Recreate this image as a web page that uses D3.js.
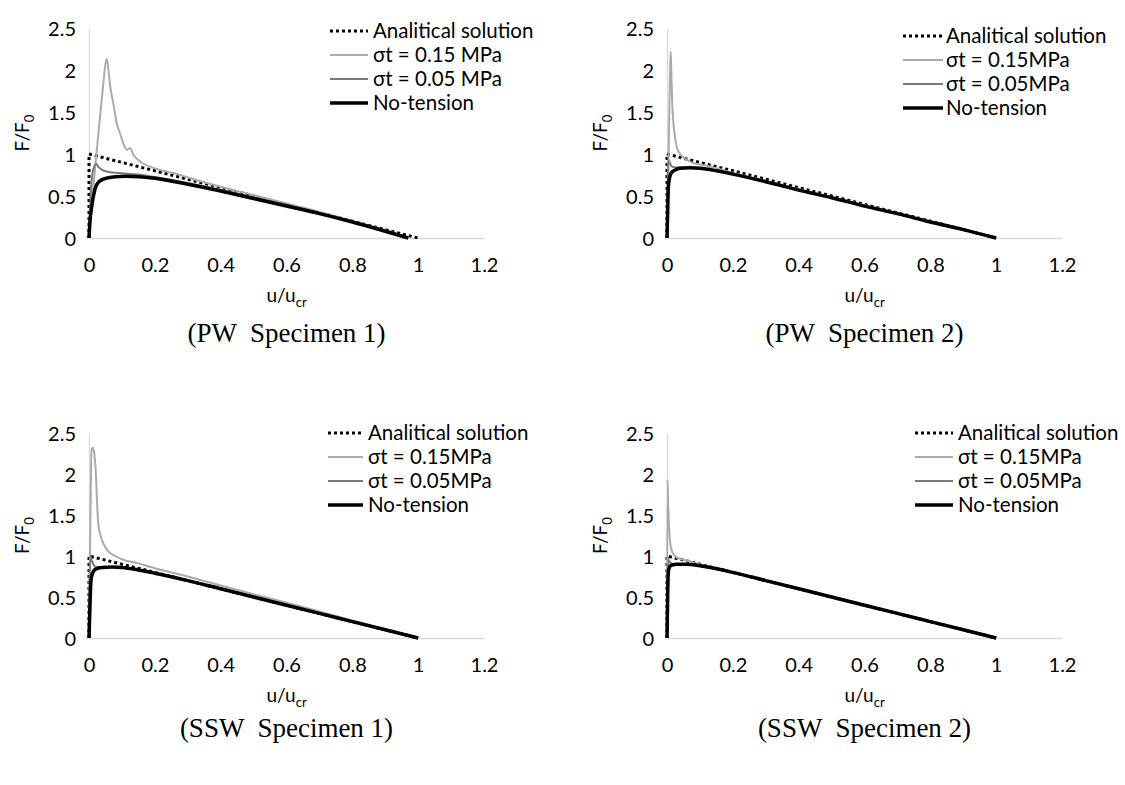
<!DOCTYPE html>
<html>
<head>
<meta charset="utf-8">
<script src="https://cdn.jsdelivr.net/npm/d3@7"></script>
<style>
  body { margin: 0; background: #fff; }
  svg { display: block; }
  text { font-family: Lato, "Open Sans", sans-serif; fill: #000; }
  .caption { font-family: "Liberation Serif", "Times New Roman", serif; white-space: pre; }
</style>
</head>
<body>
<svg id="fig" width="1125" height="785"></svg>
<script>
// ---- axis ticks ----
const xTicks = [0, 0.2, 0.4, 0.6, 0.8, 1, 1.2];
const yTicks = [0, 0.5, 1, 1.5, 2, 2.5];

// ---- legend labels (per specimen) ----
const pwLegend1  = ["Analitical solution", "σt = 0.15 MPa", "σt = 0.05 MPa", "No-tension"];
const pwLegend2  = ["Analitical solution", "σt = 0.15MPa", "σt = 0.05MPa", "No-tension"];
const captions   = ["(PW  Specimen 1)", "(PW  Specimen 2)", "(SSW  Specimen 1)", "(SSW  Specimen 2)"];

// ---- series: [u/ucr, F/F0] ----
// PW specimen 1
const pw1Analytical = [[0, 0], [0, 1], [1, 0]];
const pw1Sigma015 = [[0, 0], [0.01, 0.45], [0.02, 0.9], [0.03, 1.3], [0.04, 1.7], [0.054, 2.13], [0.059, 2.0],
  [0.064, 1.82], [0.074, 1.6], [0.084, 1.37], [0.094, 1.25], [0.104, 1.13], [0.115, 1.05], [0.125, 1.07],
  [0.135, 0.99], [0.155, 0.91], [0.185, 0.85], [0.216, 0.81], [0.26, 0.77], [0.3, 0.72], [0.4, 0.61],
  [0.5, 0.51], [0.6, 0.41], [0.7, 0.31], [0.8, 0.2], [0.9, 0.09], [0.97, 0]];
const pw1Sigma005 = [[0, 0], [0.005, 0.5], [0.012, 0.8], [0.022, 0.88], [0.03, 0.84], [0.045, 0.8], [0.07, 0.78],
  [0.1, 0.77], [0.15, 0.755], [0.2, 0.725], [0.3, 0.655], [0.4, 0.575], [0.5, 0.485], [0.6, 0.395],
  [0.7, 0.3], [0.8, 0.2], [0.9, 0.09], [0.97, 0]];
const pw1NoTension = [[0, 0], [0.003, 0.2], [0.008, 0.37], [0.018, 0.58], [0.03, 0.67], [0.05, 0.71], [0.08, 0.73],
  [0.11, 0.735], [0.15, 0.73], [0.2, 0.71], [0.3, 0.64], [0.4, 0.56], [0.5, 0.47], [0.6, 0.38], [0.7, 0.29],
  [0.8, 0.19], [0.9, 0.08], [0.97, 0]];

// PW specimen 2
const pw2Analytical = [[0, 0], [0, 1], [1, 0]];
const pw2Sigma015 = [[0, 0], [0.005, 1.0], [0.009, 1.9], [0.011, 2.22], [0.013, 2.0], [0.016, 1.6], [0.02, 1.35],
  [0.025, 1.18], [0.03, 1.08], [0.04, 1.0], [0.05, 0.96], [0.07, 0.91], [0.09, 0.88], [0.12, 0.86],
  [0.15, 0.83], [0.2, 0.775], [0.3, 0.68], [0.4, 0.58], [0.5, 0.485], [0.6, 0.39], [0.7, 0.295],
  [0.8, 0.2], [0.9, 0.1], [1, 0]];
const pw2Sigma005 = [[0, 0], [0.002, 0.6], [0.004, 0.92], [0.008, 0.9], [0.015, 0.85], [0.03, 0.84], [0.06, 0.84],
  [0.1, 0.83], [0.2, 0.765], [0.3, 0.675], [0.4, 0.575], [0.5, 0.48], [0.6, 0.385], [0.7, 0.29],
  [0.8, 0.195], [0.9, 0.1], [1, 0]];
const pw2NoTension = [[0, 0], [0.002, 0.3], [0.004, 0.6], [0.008, 0.72], [0.014, 0.78], [0.025, 0.81], [0.04, 0.83],
  [0.07, 0.835], [0.1, 0.83], [0.15, 0.8], [0.2, 0.76], [0.3, 0.67], [0.4, 0.57], [0.5, 0.48], [0.6, 0.38],
  [0.7, 0.29], [0.8, 0.19], [0.9, 0.1], [1, 0]];

// SSW specimen 1
const ssw1Analytical = [[0, 0], [0, 1], [1, 0]];
const ssw1Sigma015 = [[0, 0], [0.003, 1.0], [0.008, 2.3], [0.012, 2.32], [0.017, 2.22], [0.021, 2.0], [0.024, 1.7],
  [0.028, 1.4], [0.035, 1.25], [0.045, 1.14], [0.06, 1.05], [0.08, 1.0], [0.1, 0.96], [0.15, 0.91],
  [0.2, 0.85], [0.3, 0.75], [0.4, 0.64], [0.5, 0.535], [0.6, 0.43], [0.7, 0.325], [0.8, 0.215],
  [0.9, 0.105], [1, 0]];
const ssw1Sigma005 = [[0, 0], [0.002, 0.7], [0.004, 1.0], [0.008, 0.95], [0.013, 0.9], [0.02, 0.87], [0.04, 0.865],
  [0.07, 0.865], [0.1, 0.86], [0.15, 0.83], [0.2, 0.79], [0.3, 0.7], [0.4, 0.6], [0.5, 0.5], [0.6, 0.4],
  [0.7, 0.3], [0.8, 0.2], [0.9, 0.1], [1, 0]];
const ssw1NoTension = [[0, 0], [0.003, 0.4], [0.006, 0.7], [0.012, 0.8], [0.02, 0.84], [0.04, 0.86], [0.07, 0.865],
  [0.1, 0.86], [0.15, 0.83], [0.2, 0.79], [0.3, 0.7], [0.4, 0.6], [0.5, 0.5], [0.6, 0.4], [0.7, 0.3],
  [0.8, 0.2], [0.9, 0.1], [1, 0]];

// SSW specimen 2
const ssw2Analytical = [[0, 0], [0, 1], [1, 0]];
const ssw2Sigma015 = [[0, 0], [0.0015, 1.93], [0.004, 1.6], [0.007, 1.3], [0.01, 1.15], [0.015, 1.06],
  [0.025, 1.0], [0.04, 0.965], [0.06, 0.945], [0.1, 0.9], [0.2, 0.8], [0.3, 0.7], [0.4, 0.6], [0.5, 0.5],
  [0.6, 0.4], [0.7, 0.3], [0.8, 0.2], [0.9, 0.1], [1, 0]];
const ssw2Sigma005 = [[0, 0], [0.002, 0.7], [0.004, 0.95], [0.01, 0.92], [0.02, 0.9], [0.04, 0.9], [0.07, 0.9],
  [0.1, 0.885], [0.2, 0.8], [0.3, 0.7], [0.4, 0.6], [0.5, 0.5], [0.6, 0.4], [0.7, 0.3], [0.8, 0.2],
  [0.9, 0.1], [1, 0]];
const ssw2NoTension = [[0, 0], [0.002, 0.5], [0.004, 0.8], [0.008, 0.87], [0.015, 0.89], [0.03, 0.9], [0.06, 0.9],
  [0.1, 0.88], [0.2, 0.8], [0.3, 0.7], [0.4, 0.6], [0.5, 0.5], [0.6, 0.4], [0.7, 0.3], [0.8, 0.2],
  [0.9, 0.1], [1, 0]];

// ---- series styling (legend order) ----
const seriesStyle = [
  { stroke: "#000",    width: 3,   dash: "3,3", curve: d3.curveLinear },
  { stroke: "#ababab", width: 2,   dash: null,  curve: d3.curveMonotoneX },
  { stroke: "#7a7a7a", width: 2,   dash: null,  curve: d3.curveMonotoneX },
  { stroke: "#000",    width: 3.5, dash: null,  curve: d3.curveMonotoneX }
];

// ---- panel layout ----
const panels = [
  { caption: captions[0], legend: pwLegend1, data: [pw1Analytical, pw1Sigma015, pw1Sigma005, pw1NoTension],
    left: 89, right: 484, top: 28, bottom: 238, yTitleX: 22, capY: 333,
    leg: { x0: 330, x1: 368, tx: 373, y: 31, dy: 24 } },
  { caption: captions[1], legend: pwLegend2, data: [pw2Analytical, pw2Sigma015, pw2Sigma005, pw2NoTension],
    left: 667, right: 1062, top: 28, bottom: 238, yTitleX: 600, capY: 333,
    leg: { x0: 903, x1: 943, tx: 946, y: 36, dy: 24 } },
  { caption: captions[2], legend: pwLegend2, data: [ssw1Analytical, ssw1Sigma015, ssw1Sigma005, ssw1NoTension],
    left: 89, right: 484, top: 433, bottom: 638, yTitleX: 22, capY: 728,
    leg: { x0: 328, x1: 363, tx: 368, y: 433, dy: 24 } },
  { caption: captions[3], legend: pwLegend2, data: [ssw2Analytical, ssw2Sigma015, ssw2Sigma005, ssw2NoTension],
    left: 667, right: 1062, top: 433, bottom: 638, yTitleX: 600, capY: 728,
    leg: { x0: 915, x1: 953, tx: 958, y: 433, dy: 24 } }
];

const svg = d3.select("#fig");

panels.forEach(p => {
  const x = d3.scaleLinear().domain([0, 1.2]).range([p.left, p.right]);
  const y = d3.scaleLinear().domain([0, 2.5]).range([p.bottom, p.top]);
  const g = svg.append("g");

  // axes (light axis lines, no tick marks)
  const xAxis = g.append("g").attr("transform", `translate(0,${p.bottom})`)
    .call(d3.axisBottom(x).tickValues(xTicks).tickSize(0).tickPadding(0).tickFormat(d3.format("")));
  const yAxis = g.append("g").attr("transform", `translate(${p.left},0)`)
    .call(d3.axisLeft(y).tickValues(yTicks).tickSize(0).tickPadding(13).tickFormat(d3.format("")));
  [xAxis, yAxis].forEach(a => {
    a.select(".domain").attr("stroke", "#d9d9d9").attr("stroke-width", 1.3);
    a.selectAll("text").style("font-family", "Lato, 'Open Sans', sans-serif").style("font-size", "20px").attr("fill", "#000");
  });
  xAxis.selectAll(".tick text").attr("y", 27).attr("dy", "0.35em");
  yAxis.selectAll(".tick text").attr("dy", "0.35em");

  // data lines
  p.data.forEach((pts, i) => {
    const s = seriesStyle[i];
    const line = d3.line().x(d => x(d[0])).y(d => y(d[1])).curve(s.curve);
    g.append("path").datum(pts)
      .attr("d", line)
      .attr("fill", "none")
      .attr("stroke", s.stroke)
      .attr("stroke-width", s.width)
      .attr("stroke-linejoin", "round")
      .attr("stroke-dasharray", s.dash);
  });

  // legend
  p.legend.forEach((label, i) => {
    const s = seriesStyle[i];
    const ly = p.leg.y + i * p.leg.dy;
    g.append("line")
      .attr("x1", p.leg.x0).attr("x2", p.leg.x1).attr("y1", ly).attr("y2", ly)
      .attr("stroke", s.stroke).attr("stroke-width", s.width).attr("stroke-dasharray", s.dash);
    g.append("text").attr("x", p.leg.tx).attr("y", ly).attr("dy", "0.35em")
      .style("font-size", "20.5px").text(label);
  });

  // y-axis title F/F0
  const yt = g.append("text")
    .attr("transform", `translate(${p.yTitleX},${(p.top + p.bottom) / 2}) rotate(-90)`)
    .attr("text-anchor", "middle").attr("dy", "0.35em").style("font-size", "19px");
  yt.append("tspan").text("F/F");
  yt.append("tspan").attr("dy", 5).style("font-size", "13px").text("0");

  // x-axis title u/ucr
  const xt = g.append("text")
    .attr("x", (p.left + p.right) / 2).attr("y", p.bottom + 64)
    .attr("text-anchor", "middle").style("font-size", "19px");
  xt.append("tspan").text("u/u");
  xt.append("tspan").attr("dy", 5).style("font-size", "13px").text("cr");

  // caption
  g.append("text").attr("class", "caption")
    .attr("x", (p.left + p.right) / 2).attr("y", p.capY).attr("dy", "0.35em")
    .attr("text-anchor", "middle").style("font-size", "27px").text(p.caption);
});
</script>
</body>
</html>
